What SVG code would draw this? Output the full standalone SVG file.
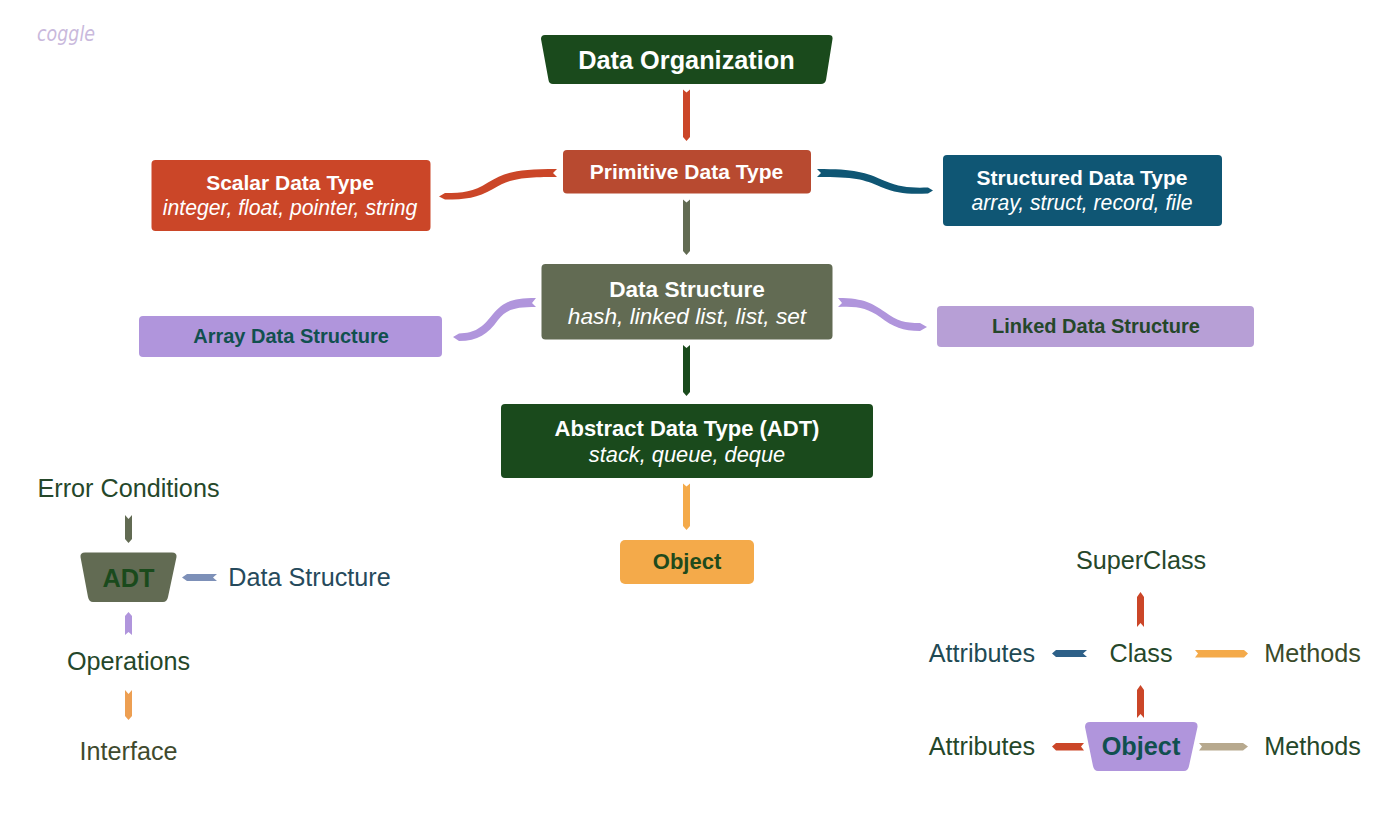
<svg xmlns="http://www.w3.org/2000/svg" width="1400" height="813" viewBox="0 0 1400 813">
<style>
text{font-family:"Liberation Sans",Arial,sans-serif;text-anchor:middle}
.b{font-weight:700;font-size:21px}
.i{font-style:italic;font-size:21.200px}
.w{fill:#fff}
.l{font-size:25.200px;fill:#25472a}
.h{font-weight:700;font-size:25.300px}
.g{fill:#1a4a1c}.r{fill:#cb4628}.t{fill:#0f5674}.o{fill:#626b53}.p{fill:#b095dc}.y{fill:#f4aa4a}
</style>
<rect width="1400" height="813" fill="#fff"/>
<g id="connectors">
<path class="r" d="M683 89.500L686.500 92.500L690 89.500V137L686.500 141L683 137Z"/>
<path class="o" d="M683 199.500L686.500 202.500L690 199.500V251L686.500 255L683 251Z"/>
<path class="g" d="M683 345L686.500 348L690 345V392L686.500 396L683 392Z"/>
<path class="y" d="M683 483.500L686.500 486.500L690 483.500V526L686.500 530L683 526Z"/>
<path class="r" d="M557 169C517 169 505 172 488 182.500C473 192 463 193 445 193L439 196.500L445 199.500C466 199.500 477 198 493 189C510 179 520 177 557 177L553 173Z"/>
<path class="t" d="M817 169C855 169 865 172 885 181C900 187.500 912 188 928 187.500L933 190.500L928 193.500C908 194.500 897 193.500 881 187C863 179 855 177 817 177L821 173Z"/>
<path class="p" d="M536 298C510 298 503 303 493 314C482 328 475 333 459 333.500L453 337L459 341C478 341 488 334 498 320C507 309 515 307 536 307L532 303Z"/>
<path class="p" d="M838 298C865 298 873 304 885 312C897 321 905 323 920 323L927 327L920 331C903 331 893 327 880 317C867 308 858 306 838 307L842 303Z"/>
<path class="o" d="M125 515L128.500 519L132 515V539L128.500 543L125 539Z"/>
<path class="p" d="M125 635V616L128.500 612L132 616V635L128.500 632Z"/>
<path d="M125 690L128.500 694L132 690V716L128.500 720L125 716Z" fill="#ed9f52"/>
<path d="M217 574L213 577.500L217 581H187L182 577.500L187 574Z" fill="#7d90b8"/>
<path class="r" d="M1137 627V597L1140.500 592L1144 597V627L1140.500 623Z"/>
<path class="r" d="M1137 718V690L1140.500 685L1144 690V718L1140.500 714Z"/>
<path d="M1087 650L1083 653.500L1087 657H1056L1052 653.500L1056 650Z" fill="#2d6088"/>
<path class="y" d="M1195 650L1198 653.500L1195 657.500H1244L1248 653.500L1244 650Z"/>
<path class="r" d="M1084 743L1081 746.500L1084 750.500H1056L1052 746.500L1056 743Z"/>
<path d="M1199 743L1202 746.500L1199 750.500H1243L1248 746.500L1243 743Z" fill="#b7a98e"/>
</g>
<g id="logo"><text x="66" y="41" fill="#c9b9dc" style="font-family:'DejaVu Sans',sans-serif;font-size:22px;font-style:italic" textLength="58" lengthAdjust="spacingAndGlyphs">coggle</text></g>
<g id="data-organization"><path class="g" d="M545 35H829Q833 35 832.500 39L826 80Q825 84 821 84H553Q549 84 548.500 80L541 39Q541 35 545 35Z"/><text class="h w" x="686.500" y="68.500">Data Organization</text></g>
<g id="primitive"><rect x="563" y="150" width="248" height="43.500" rx="4" fill="#b84a30"/><text class="b w" x="686.500" y="178.500">Primitive Data Type</text></g>
<g id="scalar"><rect x="151.500" y="160" width="279" height="71" rx="4" class="r"/><text class="b w" x="290" y="190">Scalar Data Type</text><text class="i w" x="290" y="214.500">integer, float, pointer, string</text></g>
<g id="structured"><rect x="943" y="155" width="279" height="71" rx="4" class="t"/><text class="b w" x="1082" y="185">Structured Data Type</text><text class="i w" x="1082" y="209.500">array, struct, record, file</text></g>
<g id="data-structure"><rect x="541.500" y="264" width="291" height="75.500" rx="4" class="o"/><text class="w" x="687" y="297" style="font-weight:700;font-size:22.600px">Data Structure</text><text class="w" x="687" y="323.500" style="font-style:italic;font-size:22.700px">hash, linked list, list, set</text></g>
<g id="array"><rect x="139" y="316" width="303" height="41" rx="4" class="p"/><text x="291" y="343" fill="#11504f" style="font-weight:700;font-size:20px">Array Data Structure</text></g>
<g id="linked"><rect x="937" y="306" width="317" height="41" rx="4" fill="#b79fd6"/><text x="1096" y="333" fill="#25472a" style="font-weight:700;font-size:20px">Linked Data Structure</text></g>
<g id="adt"><rect x="501" y="404" width="372" height="74" rx="4" class="g"/><text class="w" x="687" y="435.500" style="font-weight:700;font-size:22px">Abstract Data Type (ADT)</text><text class="w" x="687" y="461.500" style="font-style:italic;font-size:21.800px">stack, queue, deque</text></g>
<g id="object"><rect x="620" y="540" width="134" height="44" rx="5" class="y"/><text x="687" y="568.500" fill="#1f4a1c" style="font-weight:700;font-size:22px">Object</text></g>
<g id="error-conditions"><text class="l" x="128.500" y="497">Error Conditions</text></g>
<g id="adt-small"><path class="o" d="M85 552.500H172Q177 552.500 176.500 557L168 597Q167 602 163 602H93Q89 602 88 597L80.500 557Q80 552.500 85 552.500Z"/><text class="h" x="128.500" y="586.500" fill="#1a4a1c">ADT</text></g>
<g id="data-structure-label"><text class="l" x="309.500" y="586" style="fill:#264a5c">Data Structure</text></g>
<g id="operations"><text class="l" x="128.500" y="670">Operations</text></g>
<g id="interface"><text class="l" x="128.500" y="760" style="fill:#3f4a2e">Interface</text></g>
<g id="superclass"><text class="l" x="1141" y="569">SuperClass</text></g>
<g id="class"><text class="l" x="1141" y="662">Class</text></g>
<g id="attributes-1"><text class="l" x="982" y="662" style="fill:#1f4a54">Attributes</text></g>
<g id="methods-1"><text class="l" x="1312.500" y="662" style="fill:#3a4a2a">Methods</text></g>
<g id="object-small"><path class="p" d="M1090 722H1193Q1198 722 1197.500 727L1189 766Q1188 771 1184 771H1098Q1094 771 1093 766L1085 727Q1085 722 1090 722Z"/><text class="h" x="1141" y="755" fill="#11504f">Object</text></g>
<g id="attributes-2"><text class="l" x="982" y="755">Attributes</text></g>
<g id="methods-2"><text class="l" x="1312.500" y="755">Methods</text></g>
</svg>
